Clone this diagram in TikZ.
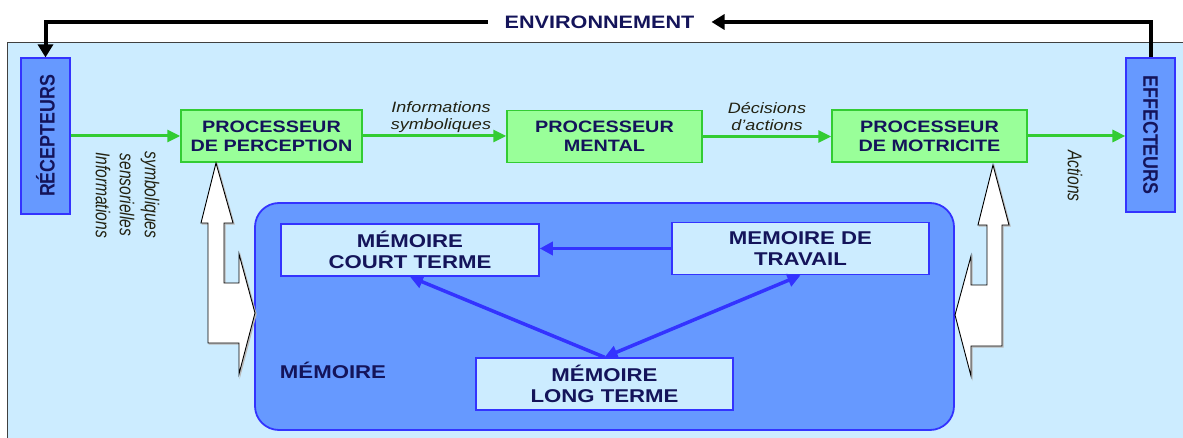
\documentclass[tikz,border=0pt]{standalone}
\usepackage{fontspec}
\setmainfont{Liberation Sans}
\newfontfamily\widefont[FakeStretch=1.2]{Liberation Sans}
\newfontfamily\tallfont[FakeStretch=0.85]{Liberation Sans}
\newfontfamily\narrowfont[FakeStretch=0.78]{Liberation Sans}
\usetikzlibrary{arrows.meta}

\definecolor{bgblue}{RGB}{204,236,255}
\definecolor{midblue}{RGB}{102,153,255}
\definecolor{edgeblue}{RGB}{51,51,255}
\definecolor{procfill}{RGB}{153,255,153}
\definecolor{procedge}{RGB}{51,204,51}
\definecolor{navytext}{RGB}{20,20,90}
\definecolor{notetext}{RGB}{34,34,18}

\tikzset{
  memtip/.tip={Triangle[length=13pt,width=13pt]},
  organ/.style={draw=edgeblue, line width=1.2pt, fill=midblue, inner sep=0pt},
  organlbl/.style={inner sep=0pt, text=navytext,
    font=\tallfont\bfseries\fontsize{21}{24}\selectfont},
  procbox/.style={draw=procedge, line width=1.5pt, fill=procfill, inner sep=0pt,
    minimum height=52pt, align=center, text=navytext,
    font=\widefont\bfseries\fontsize{16.5}{19}\selectfont},
  membox/.style={draw=edgeblue, line width=1.5pt, fill=bgblue, inner sep=0pt,
    minimum width=257pt, minimum height=52pt, align=center, text=navytext,
    font=\widefont\bfseries\fontsize{18.5}{21.5}\selectfont},
  flow/.style={draw=procedge, line width=3pt,
    -{Triangle[length=13pt,width=12pt]}},
  memlink/.style={draw=edgeblue, line width=3.5pt},
  loopline/.style={draw=black, line width=4pt,
    -{Triangle[length=13pt,width=15pt]}},
  note/.style={inner sep=0pt, align=center, text=notetext,
    font=\widefont\itshape\fontsize{15}{17}\selectfont},
  vnote/.style={inner sep=0pt, rotate=-90, text=notetext,
    font=\narrowfont\itshape\fontsize{20}{22}\selectfont},
  hollow/.style={draw=black, line width=0.9pt, fill=white, line join=miter},
  hollowshadow/.style={draw=gray!55, line width=1pt, fill=gray!45}
}

\begin{document}
\begin{tikzpicture}[x=1pt,y=-1pt]
\useasboundingbox (0,0) rectangle (1183,438);

% environment panel
\draw[fill=bgblue, draw=black!75, line width=1pt] (7,43) rectangle (1195,450);

% receptors and effectors
\node[organ, minimum width=49pt, minimum height=156pt] (rec) at (45.5,136) {};
\node[organlbl, rotate=90] (reclbl) at (rec.center) {RÉCEPTEURS};
\node[organ, minimum width=49pt, minimum height=154pt] (eff) at (1150.5,135) {};
\node[organlbl, rotate=-90] (efflbl) at (eff.center) {EFFECTEURS};

% processors
\node[procbox, minimum width=181pt] (perc) at (271.5,136) {PROCESSEUR\\DE PERCEPTION};
\node[procbox, minimum width=195pt] (ment) at (604.5,136.5) {PROCESSEUR\\MENTAL};
\node[procbox, minimum width=195pt] (motr) at (929.5,136) {PROCESSEUR\\DE MOTRICITE};

% memory block
\node[draw=edgeblue, line width=1.8pt, fill=midblue, rounded corners=24pt,
      minimum width=699pt, minimum height=227pt, inner sep=0pt] (mem) at (604.5,316.5) {};
\node[membox, minimum width=258pt] (mct) at (410,250) {MÉMOIRE\\COURT TERME};
\node[membox] (mtr) at (800.5,248.5) {MEMOIRE DE\\TRAVAIL};
\node[membox] (mlt) at (604.5,384) {MÉMOIRE\\LONG TERME};
\node[text=navytext, inner sep=0pt, font=\widefont\bfseries\fontsize{18.5}{21.5}\selectfont] (memlbl) at (333,370) {MÉMOIRE};

% links inside memory
\draw[memlink, -{memtip}] (mtr.west) -- (mtr.west -| mct.east);
\draw[memlink, -{memtip}] (mlt.north) -- (mct.south);
\draw[memlink, {memtip}-{memtip}] (mlt.north) -- (mtr.south);

% information flow
\draw[flow] (rec.east |- perc.west) -- (perc.west);
\draw[flow] (perc.east) -- (ment.west |- perc.east);
\draw[flow] (ment.east) -- (motr.west |- ment.east);
\draw[flow] (motr.east) -- (eff.west |- motr.east);

% flow labels
\node[note] (infsym) at (441,117) {Informations\\symboliques};
\node[note] (decis) at (767,117) {Décisions\\d’actions};
\node[vnote] (vinf) at (103,195) {Informations};
\node[vnote] (vsens) at (127,195) {sensorielles};
\node[vnote] (vsymb) at (150,195) {symboliques};
\node[vnote] (act) at (1075,176) {Actions};

% environment loop
\node[inner sep=0pt, inner xsep=17pt, text=navytext,
      font=\widefont\bfseries\fontsize{18}{21}\selectfont] (env) at (599.5,22) {ENVIRONNEMENT};
\draw[loopline] (eff.north) |- (env.east);
\draw[loopline] (env.west) -| (rec.north);

% drop shadows of the two exchange arrows
\begin{scope}[shift={(1.2,1.2)}]
\path[hollowshadow] (216,163) -- (233,223) -- (224,223) -- (224,283) -- (239,283)
  -- (239,254) -- (255,313) -- (239,374) -- (239,343) -- (208,343) -- (208,223)
  -- (201,223) -- cycle;
\path[hollowshadow] (993,165) -- (1009,225) -- (1002,225) -- (1002,346) -- (971,346)
  -- (971,376) -- (955,315) -- (971,256) -- (971,285) -- (987,285) -- (987,225)
  -- (978,225) -- cycle;
\end{scope}
% exchange arrow between memory and perception
\path[hollow] (216,163) -- (233,223) -- (224,223) -- (224,283) -- (239,283)
  -- (239,254) -- (255,313) -- (239,374) -- (239,343) -- (208,343) -- (208,223)
  -- (201,223) -- cycle;
% exchange arrow between memory and motor processor
\path[hollow] (993,165) -- (1009,225) -- (1002,225) -- (1002,346) -- (971,346)
  -- (971,376) -- (955,315) -- (971,256) -- (971,285) -- (987,285) -- (987,225)
  -- (978,225) -- cycle;
\end{tikzpicture}
\end{document}
